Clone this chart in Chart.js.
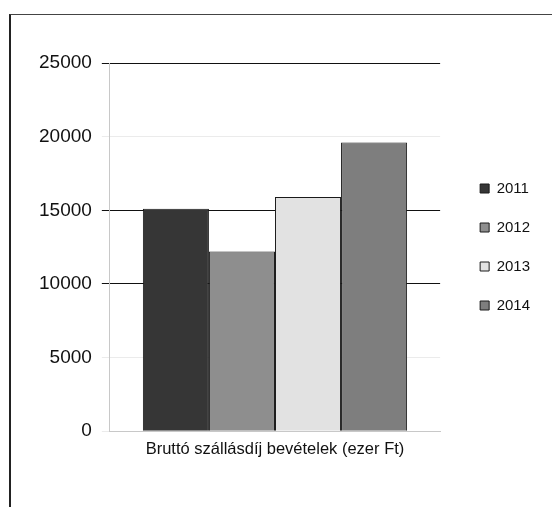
<!DOCTYPE html>
<html>
<head>
<meta charset="utf-8">
<script src="https://cdn.jsdelivr.net/npm/chart.js@4/dist/chart.umd.min.js"></script>
<style>
  html, body { margin: 0; padding: 0; background: #fff; }
  #wrap { position: relative; width: 552px; height: 507px; overflow: hidden; }
  #frame { position: absolute; left: 9px; top: 14px; width: 600px; height: 600px;
           border-left: 2px solid #222; border-top: 1px solid #444; }
  #chart { position: absolute; left: 0; top: 0; }
</style>
</head>
<body>
<div id="wrap">
  <div id="frame"></div>
  <canvas id="chart" width="552" height="507"></canvas>
</div>
<script>
// adatok
const categories = ['Bruttó szállásdíj bevételek (ezer Ft)'];
const years = ['2011', '2012', '2013', '2014'];
const values = [15100, 12200, 15900, 19600];
const fills = ['#363636', '#8e8e8e', '#e2e2e2', '#7e7e7e'];
const darkGridAt = [25000, 15000, 10000];

const FONT = "'Liberation Sans', Arial, sans-serif";

// a jelmagyarázatot kicsit eltoljuk (x, y), hogy a rajzterület keskenyebb lehessen
const LEGEND_DX = 16, LEGEND_DY = -14;
const legendShift = {
  id: 'legendShift',
  beforeLayout(chart) {
    const lg = chart.legend;
    if (!lg || lg._shifted) return;
    const draw = lg.draw.bind(lg);
    lg.draw = function () {
      const ctx = this.ctx;
      ctx.save();
      ctx.translate(LEGEND_DX, LEGEND_DY);
      draw();
      ctx.restore();
    };
    lg._shifted = true;
  }
};

const datasets = years.map((y, i) => ({
  label: y,
  data: [values[i]],
  backgroundColor: fills[i],
  borderColor: '#1a1a1a',
  borderWidth: 1,
  categoryPercentage: 0.8,
  barPercentage: 1.0
}));

new Chart(document.getElementById('chart').getContext('2d'), {
  type: 'bar',
  data: { labels: categories, datasets },
  plugins: [legendShift],
  options: {
    responsive: false,
    animation: false,
    layout: { padding: { top: 63, left: 29, right: 28, bottom: 48 } },
    scales: {
      y: {
        min: 0, max: 25000,
        ticks: {
          stepSize: 5000, padding: 10, color: '#111',
          font: { family: FONT, size: 19 },
          callback: v => String(v)
        },
        grid: {
          tickLength: 8,
          color: c => darkGridAt.includes(c.tick?.value) ? '#111' : 'rgba(0,0,0,0.08)',
          lineWidth: 1
        },
        border: { display: true, color: '#c8c8c8' }
      },
      x: {
        ticks: { padding: 0, color: '#111', font: { family: FONT, size: 16.5 } },
        grid: { display: false },
        border: { display: true, color: '#c8c8c8' }
      }
    },
    plugins: {
      legend: {
        position: 'right',
        labels: {
          boxWidth: 9, boxHeight: 9, padding: 24, color: '#111',
          font: { family: FONT, size: 15 }
        }
      },
      tooltip: { enabled: false }
    }
  }
});
</script>
</body>
</html>
